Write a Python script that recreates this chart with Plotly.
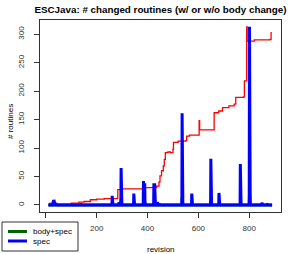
import numpy as np
import plotly.graph_objects as go

# Red line: total (step-like) series
red_x = [12, 30, 45, 55, 70, 100, 130, 150, 175, 200, 230, 280, 283, 300, 383, 436,
         445, 449, 455, 462, 466, 470, 480, 490, 500, 502, 520, 550, 554, 565, 600,
         603, 605, 657, 662, 680, 695, 720, 741, 747, 777, 781, 788, 790, 792, 820,
         882, 886]
red_y = [2.5, 2.5, 1, 0, 1, 3, 5, 6, 9, 10, 11, 12, 27, 28, 30.5, 33,
         40, 51, 60, 68.5, 80, 92, 93, 92, 98, 110, 112, 113, 121, 122.5, 122.5,
         148, 132, 132, 162, 165, 171, 174, 177, 189, 190, 218, 218, 313, 288, 290,
         291, 304]

# revisions span
rev_first, rev_last = 10, 890

# spec: nonzero revisions and values (all other revisions are 0)
spec_rev = [28, 30, 32, 34, 36, 137, 261, 288, 296, 346, 384, 389, 425, 428,
            439, 446, 536, 574, 649, 681, 765, 801, 850, 869]
spec_val = [4, 7, 9, 7, 3, 2, 16, 5, 65, 20, 42, 38, 38, 38,
            5, 2, 161, 20, 81, 21, 72, 313, 4, 2]

# body+spec: nonzero revisions and values (mostly hidden under spec)
bs_rev = [32, 296, 389, 428, 536, 649, 801]
bs_val = [3, 10, 6, 5, 12, 8, 20]

x_ticks = [0, 200, 400, 600, 800]
x_tick_labels = ["", "200", "400", "600", "800"]  # "0" is hidden behind the legend
y_ticks = [0, 50, 100, 150, 200, 250, 300]

legend_names = ["body+spec", "spec"]
legend_colors = ["#006400", "#0000ff"]

revs = np.arange(rev_first, rev_last + 1)
spec = np.zeros(len(revs))
for r, v in zip(spec_rev, spec_val):
    spec[r - rev_first] = v
bs = np.zeros(len(revs))
for r, v in zip(bs_rev, bs_val):
    bs[r - rev_first] = v

FONT = "Liberation Sans, Arial, sans-serif"

# plot area in pixels
L, R, T, B = 40, 281, 20, 212
W, H = 294, 254
PW, PH = R - L, B - T


def px(x):
    return (x - L) / PW


def py(y):
    return (B - y) / PH


fig = go.Figure()
fig.add_trace(go.Scatter(x=red_x, y=red_y, mode="lines", line=dict(color="#ff0000", width=1.3, shape="hv"),
                         showlegend=False, hoverinfo="skip"))
fig.add_trace(go.Scatter(x=revs, y=bs, mode="lines", name=legend_names[0],
                         line=dict(color=legend_colors[0], width=3), showlegend=False))
fig.add_trace(go.Scatter(x=revs, y=spec, mode="lines", name=legend_names[1],
                         line=dict(color=legend_colors[1], width=3), showlegend=False))

axis_common = dict(showgrid=False, zeroline=False, showline=True, mirror=True, automargin=False,
                   linecolor="#333333", linewidth=1, ticks="outside", ticklen=5,
                   tickcolor="#333333", tickfont=dict(family=FONT, size=8, color="#333333"))

shapes = [dict(type="rect", xref="paper", yref="paper", x0=px(2), x1=px(78), y0=py(251), y1=py(222),
               line=dict(color="#333333", width=1), fillcolor="white", layer="above")]
annotations = []
for i, (nm, col) in enumerate(zip(legend_names, legend_colors)):
    yy = 231.5 + i * 9.5
    shapes.append(dict(type="line", xref="paper", yref="paper", x0=px(8), x1=px(27), y0=py(yy), y1=py(yy),
                       line=dict(color=col, width=3), layer="above"))
    annotations.append(dict(text=nm, xref="paper", yref="paper", x=px(31), y=py(yy), xanchor="left",
                            yanchor="middle", showarrow=False, font=dict(family=FONT, size=8, color="black")))

annotations.append(dict(text="revision", xref="paper", yref="paper", x=0.5, y=py(249), xanchor="center",
                        yanchor="middle", showarrow=False, font=dict(family=FONT, size=8, color="black")))
annotations.append(dict(text="# routines", xref="paper", yref="paper", x=px(10), y=py(122), xanchor="center",
                        yanchor="middle", textangle=-90, showarrow=False,
                        font=dict(family=FONT, size=8, color="black")))

fig.update_layout(
    width=W, height=H,
    margin=dict(l=L, r=W - R, t=T, b=H - B),
    plot_bgcolor="white", paper_bgcolor="white",
    title=dict(text="<b>ESCJava: # changed routines (w/ or w/o body change)</b>",
               xref="paper", x=0.5, xanchor="center", yref="container", y=1 - 10 / H, yanchor="middle",
               font=dict(family=FONT, size=9.8, color="black")),
    xaxis=dict(range=[-23, 925], tickvals=x_ticks, ticktext=x_tick_labels, ticklabelstandoff=3, **axis_common),
    yaxis=dict(range=[-12.5, 325], tickvals=y_ticks, tickangle=-90, ticklabelstandoff=7, **axis_common),
    shapes=shapes,
    annotations=annotations,
    showlegend=False,
)

fig.write_html("out.html", config={"displayModeBar": False},
               post_script="document.body.style.margin='0';document.body.style.padding='0';")
